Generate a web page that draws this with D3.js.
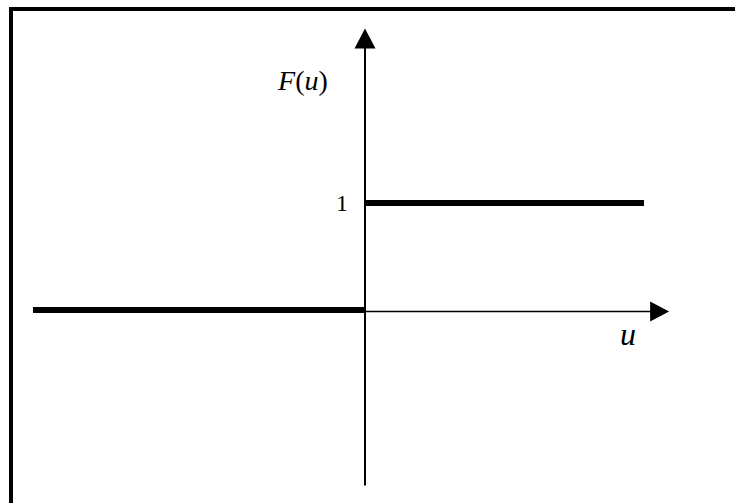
<!DOCTYPE html>
<html>
<head>
	<meta charset="utf-8">
	<script src="https://cdn.jsdelivr.net/npm/d3@7"></script>
	<style>
		body { margin: 0; background: #fff; }
		text { font-family: "Liberation Serif", "Times New Roman", serif; fill: #000; }
	</style>
</head>
<body>
	<svg></svg>
	<script>
		// step function F(u): 0 for u<0, 1 for u>0
		var lowerU = [-1.19, 0];
		var lowerF = [0, 0];
		var upperU = [0, 1.0];
		var upperF = [1, 1];
		var axisU = [0, 1.09];
		var axisF = [-1.64, 2.63];
		var tickF = [1];
		var tickLabels = ["1"];

		var width = 735, height = 503;
		var svg = d3.select("svg").attr("width", width).attr("height", height);

		var x = d3.scaleLinear().domain([0, 1]).range([365, 644]);
		var y = d3.scaleLinear().domain([0, 1]).range([310, 203]);

		// frame
		svg.append("rect")
			.attr("x", 11).attr("y", 9)
			.attr("width", 740).attr("height", 510)
			.attr("fill", "none").attr("stroke", "#000").attr("stroke-width", 4);

		// axes
		svg.append("line")
			.attr("x1", x(axisU[0])).attr("x2", x(axisU[1]) - 18)
			.attr("y1", y(0) + 1.5).attr("y2", y(0) + 1.5)
			.attr("stroke", "#000").attr("stroke-width", 1.5);
		svg.append("path")
			.attr("d", "M" + x(axisU[1]) + "," + (y(0) + 1.5) + "l-19,-10v20z")
			.attr("fill", "#000");

		svg.append("line")
			.attr("x1", x(0)).attr("x2", x(0))
			.attr("y1", y(axisF[0])).attr("y2", y(axisF[1]) + 18)
			.attr("stroke", "#000").attr("stroke-width", 2);
		svg.append("path")
			.attr("d", "M" + x(0) + "," + y(axisF[1]) + "l-10.5,20h21z")
			.attr("fill", "#000");

		// step segments
		var line = d3.line().x(d => x(d[0])).y(d => y(d[1]));
		svg.append("path")
			.datum(d3.zip(lowerU, lowerF))
			.attr("d", line)
			.attr("stroke", "#000").attr("stroke-width", 6).attr("fill", "none");
		svg.append("path")
			.datum(d3.zip(upperU, upperF))
			.attr("d", line)
			.attr("stroke", "#000").attr("stroke-width", 6).attr("fill", "none");

		// tick label
		svg.selectAll(".tick")
			.data(tickF)
			.enter().append("text")
			.attr("class", "tick")
			.attr("x", x(0) - 23).attr("y", d => y(d) + 8)
			.attr("text-anchor", "middle")
			.attr("font-size", 24)
			.text((d, i) => tickLabels[i]);

		// axis titles
		svg.append("text")
			.attr("x", 303).attr("y", 90)
			.attr("text-anchor", "middle")
			.attr("font-size", 28)
			.html('<tspan font-style="italic">F</tspan>(<tspan font-style="italic">u</tspan>)');
		svg.append("text")
			.attr("x", 628).attr("y", 345)
			.attr("text-anchor", "middle")
			.attr("font-size", 32)
			.attr("font-style", "italic")
			.text("u");
	</script>
</body>
</html>
